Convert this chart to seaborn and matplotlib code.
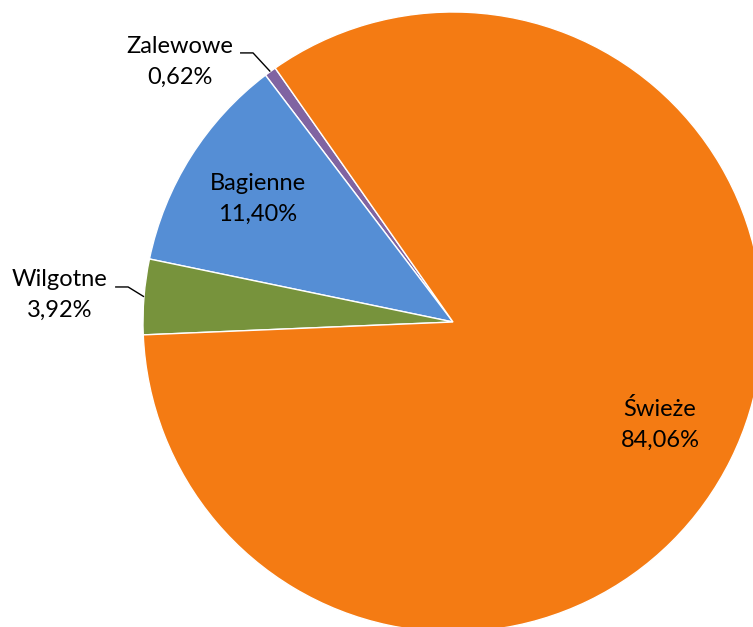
import numpy as np
import matplotlib
matplotlib.use("Agg")
import matplotlib.pyplot as plt
import seaborn as sns

# Shares of habitat types (percent)
categories = ["Zalewowe", "Bagienne", "Wilgotne", "Świeże"]
shares = [0.62, 11.40, 3.92, 84.06]
share_labels = ["0,62%", "11,40%", "3,92%", "84,06%"]
colors = ["#8064A2", "#558ED5", "#77933C", "#F47B13"]

sns.set_theme(style="white")
plt.rcParams["font.family"] = ["Lato", "DejaVu Sans"]

fig = plt.figure(figsize=(7.53, 6.27), dpi=100)
ax = fig.add_axes([0, 0, 1, 1])

start = 125.0
wedges, _ = ax.pie(shares, colors=colors, startangle=start, counterclock=True,
                   radius=1.0, center=(0, 0),
                   wedgeprops=dict(edgecolor="white", linewidth=1.0))

# Axis window: pie radius = 310 px, centre at pixel (453, 322)
scale = 310.0
ax.set_xlim(-453 / scale, (753 - 453) / scale)
ax.set_ylim(-(627 - 322) / scale, 322 / scale)
ax.set_aspect("equal")
ax.axis("off")

fs = 17
ls = 1.6
mids = []
acc = start
for s in shares:
    span = s / 100 * 360
    mids.append(np.deg2rad(acc + span / 2))
    acc += span

# Inside labels
for i in (1, 3):
    r = 0.745
    x, y = r * np.cos(mids[i]), r * np.sin(mids[i])
    ax.text(x, y, f"{categories[i]}\n{share_labels[i]}", ha="center", va="center",
            fontsize=fs, linespacing=ls, color="black")

# Outside labels with leader lines
outside = {0: ((-0.881, 0.839), (-0.645, 0.868), (-0.687, 0.868)),
           2: ((-1.268, 0.087), (-1.048, 0.113), (-1.090, 0.113))}
for i, (txt_pos, elbow, end) in outside.items():
    ex, ey = np.cos(mids[i]), np.sin(mids[i])
    ax.plot([ex, elbow[0], end[0]], [ey, elbow[1], end[1]], color="black", lw=1.0,
            solid_capstyle="butt")
    ax.text(txt_pos[0], txt_pos[1], f"{categories[i]}\n{share_labels[i]}",
            ha="center", va="center", fontsize=fs, linespacing=ls, color="black")

fig.savefig("out.png", dpi=100, facecolor="white")
